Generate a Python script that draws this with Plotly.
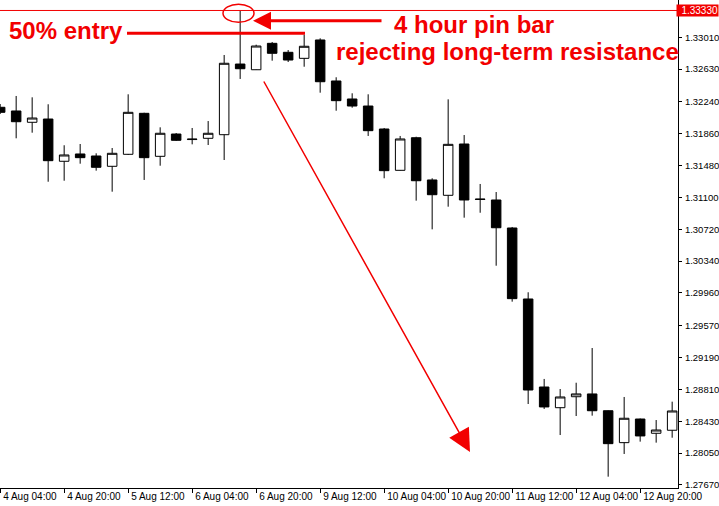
import plotly.graph_objects as go

# ---------------- data (4-hour bars) ----------------
bar_index = list(range(43))
opens = [1.32175, 1.32131, 1.31996, 1.32035, 1.31531, 1.31618, 1.31594, 1.31471,
         1.31614, 1.32103, 1.31590, 1.31856, 1.31790, 1.31805, 1.31848, 1.32691,
         1.32623, 1.32938, 1.32831, 1.32759, 1.32978, 1.32489, 1.32274, 1.32190,
         1.31916, 1.31423, 1.31812, 1.31308, 1.31125, 1.31737, 1.31081, 1.31069,
         1.30735, 1.29888, 1.28838, 1.28591, 1.28722, 1.28755, 1.28555, 1.28174,
         1.28456, 1.28286, 1.28322]
highs = [1.32214, 1.32310, 1.32294, 1.32211, 1.31722, 1.31737, 1.31626, 1.31689,
         1.32330, 1.32110, 1.31936, 1.31868, 1.31928, 1.32011, 1.32799, 1.33325,
         1.32922, 1.32954, 1.32858, 1.33041, 1.32998, 1.32533, 1.32342, 1.32330,
         1.31928, 1.31833, 1.31824, 1.31328, 1.32270, 1.31844, 1.31260, 1.31164,
         1.30747, 1.29968, 1.28934, 1.28814, 1.28889, 1.29303, 1.28560, 1.28719,
         1.28462, 1.28444, 1.28663]
lows = [1.32095, 1.31805, 1.31872, 1.31287, 1.31299, 1.31502, 1.31419, 1.31168,
        1.31606, 1.31308, 1.31478, 1.31773, 1.31733, 1.31725, 1.31546, 1.32513,
        1.32620, 1.32731, 1.32715, 1.32659, 1.32349, 1.32134, 1.32170, 1.31833,
        1.31328, 1.31420, 1.31061, 1.30719, 1.30989, 1.30858, 1.30917, 1.30285,
        1.29856, 1.28635, 1.28576, 1.28265, 1.28492, 1.28496, 1.27768, 1.28039,
        1.28186, 1.28174, 1.28233]
closes = [1.32115, 1.32003, 1.32047, 1.31538, 1.31606, 1.31574, 1.31459, 1.31626,
          1.32115, 1.31574, 1.31865, 1.31781, 1.31795, 1.31865, 1.32700, 1.32635,
          1.32906, 1.32819, 1.32739, 1.32903, 1.32480, 1.32254, 1.32190, 1.31896,
          1.31419, 1.31797, 1.31299, 1.31132, 1.31733, 1.31069, 1.31076, 1.30738,
          1.29892, 1.28802, 1.28600, 1.28719, 1.28755, 1.28555, 1.28162, 1.28465,
          1.28254, 1.28325, 1.28552]

x_tick_bars = [0, 4, 8, 12, 16, 20, 24, 28, 32, 36, 40]
x_tick_labels = ["4 Aug 04:00", "4 Aug 20:00", "5 Aug 12:00", "6 Aug 04:00",
                 "6 Aug 20:00", "9 Aug 12:00", "10 Aug 04:00", "10 Aug 20:00",
                 "11 Aug 12:00", "12 Aug 04:00", "12 Aug 20:00"]
y_tick_values = [1.33390, 1.33010, 1.32630, 1.32240, 1.31860, 1.31480, 1.31100,
                 1.30720, 1.30340, 1.29960, 1.29570, 1.29190, 1.28810, 1.28430,
                 1.28050, 1.27670]
y_tick_labels = ["%.5f" % v for v in y_tick_values]
resistance = 1.33330

# ---------------- layout geometry ----------------
PLOT_W, PLOT_H = 678, 488
BAR_PX = 16
X0 = -0.01
X1 = X0 + PLOT_W / BAR_PX
Y_TOP, Y_BOT = 1.33455, 1.27633
RED = "#f20000"
AXIS_FONT = dict(family="Liberation Sans, Arial, sans-serif", size=10, color="black")
Y_FONT = dict(family="Liberation Sans, Arial, sans-serif", size=9.5, color="black")


def bx(px):  # pixel -> bar coordinate
    return X0 + px / BAR_PX


def py(p):  # pixel -> price coordinate
    return Y_TOP - p * (Y_TOP - Y_BOT) / PLOT_H


fig = go.Figure(go.Candlestick(
    x=bar_index, open=opens, high=highs, low=lows, close=closes,
    increasing=dict(line=dict(color="black", width=1), fillcolor="white"),
    decreasing=dict(line=dict(color="black", width=1), fillcolor="black"),
    whiskerwidth=0, hoverinfo="none",
))

text_font = dict(family="Liberation Sans, Arial, sans-serif", size=24, color=RED,
                 weight="bold")

fig.update_layout(
    template="none",
    width=719, height=506,
    margin=dict(l=0, r=41, t=0, b=18, pad=0),
    paper_bgcolor="white", plot_bgcolor="white",
    showlegend=False,
    boxgap=0.15,
    xaxis=dict(
        range=[X0, X1], tickvals=x_tick_bars, ticktext=x_tick_labels,
        ticks="outside", ticklen=4, tickcolor="black", tickwidth=1,
        showline=True, linecolor="black", linewidth=1,
        showgrid=False, zeroline=False, automargin=False,
        rangeslider=dict(visible=False),
        tickangle=0,
        ticklabelposition="outside right",
        ticklabelstandoff=-1,
        ticklabelshift=2,
        tickfont=AXIS_FONT,
    ),
    yaxis=dict(
        side="right", range=[Y_BOT, Y_TOP],
        tickvals=y_tick_values, ticktext=y_tick_labels,
        ticks="outside", ticklen=3, tickcolor="black", tickwidth=1,
        showline=True, linecolor="black", linewidth=1,
        showgrid=False, zeroline=False, automargin=False,
        ticklabelstandoff=1,
        tickfont=Y_FONT,
    ),
    shapes=[
        dict(type="line", xref="paper", yref="y", x0=0, x1=1, y0=resistance, y1=resistance,
             line=dict(color=RED, width=1)),
        dict(type="circle", xref="x", yref="y", x0=bx(223), x1=bx(254), y0=py(22.3), y1=py(4.3),
             line=dict(color=RED, width=1.5)),
        dict(type="line", xref="x", yref="y", x0=bx(127), x1=bx(305), y0=py(33.2), y1=py(33.2),
             line=dict(color=RED, width=3)),
    ],
    annotations=[
        dict(text="50% entry", xref="paper", yref="paper", x=7 / PLOT_W, y=1 - 31 / PLOT_H,
             xanchor="left", yanchor="middle", showarrow=False, font=text_font),
        dict(text="4 hour pin bar", xref="paper", yref="paper", x=392 / PLOT_W, y=1 - 24 / PLOT_H,
             xanchor="left", yanchor="middle", showarrow=False, font=text_font),
        dict(text="rejecting long-term resistance", xref="paper", yref="paper",
             x=334 / PLOT_W, y=1 - 51 / PLOT_H,
             xanchor="left", yanchor="middle", showarrow=False, font=text_font),
        dict(text="", xref="x", yref="y", x=bx(253), y=py(20.7), axref="x", ayref="y",
             ax=bx(383), ay=py(20.7), showarrow=True, arrowhead=2, arrowsize=1.2,
             arrowwidth=3, arrowcolor=RED),
        dict(text="", xref="x", yref="y", x=bx(470), y=py(452), axref="x", ayref="y",
             ax=bx(263), ay=py(80), showarrow=True, arrowhead=2, arrowsize=3,
             arrowwidth=1.5, arrowcolor=RED),
        dict(text="1.33330", xref="paper", yref="y", x=1, y=resistance, xanchor="left",
             yanchor="middle", xshift=-2, showarrow=False, bgcolor=RED, borderpad=0,
             width=41, align="right",
             font=dict(family="Liberation Sans, Arial, sans-serif", size=10, color="white")),
    ],
)

fig.write_html("out.html", config={"displayModeBar": False},
               post_script="document.body.style.margin='0';document.body.style.padding='0';")
